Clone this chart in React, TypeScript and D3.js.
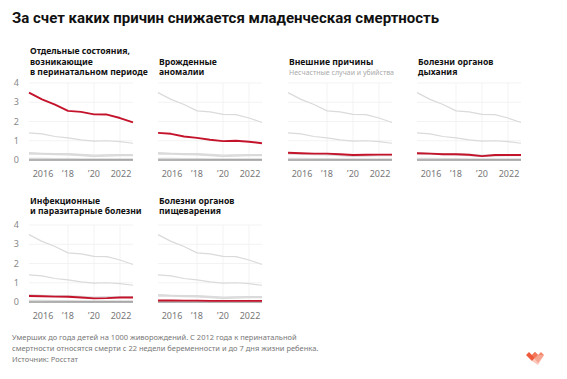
import React from "react";
import * as d3 from "d3";

const years = [2015, 2016, 2017, 2018, 2019, 2020, 2021, 2022, 2023];
const perinatal = [3.5, 3.15, 2.88, 2.55, 2.5, 2.37, 2.36, 2.18, 1.95];
const congenital = [1.41, 1.36, 1.22, 1.15, 1.05, 0.98, 1.0, 0.95, 0.87];
const external = [0.38, 0.35, 0.33, 0.33, 0.3, 0.26, 0.27, 0.28, 0.28];
const respiratory = [0.35, 0.33, 0.3, 0.3, 0.27, 0.2, 0.26, 0.26, 0.26];
const infectious = [0.31, 0.3, 0.28, 0.27, 0.23, 0.19, 0.2, 0.23, 0.23];
const digestive = [0.08, 0.08, 0.07, 0.07, 0.06, 0.06, 0.06, 0.06, 0.06];

const seriesValues = [perinatal, congenital, external, respiratory, infectious, digestive];
const panelTitles = [
  ["Отдельные состояния,", "возникающие", "в перинатальном периоде"],
  ["Врожденные", "аномалии"],
  ["Внешние причины"],
  ["Болезни органов", "дыхания"],
  ["Инфекционные", "и паразитарные болезни"],
  ["Болезни органов", "пищеварения"],
];
const panelSubtitles = ["", "", "Несчастные случаи и убийства", "", "", ""];
const xTickYears = [2016, 2018, 2020, 2022];
const xTickLabels = ["2016", "’18", "’20", "2022"];
const yTicks = [0, 1, 2, 3, 4];

const title = "За счет каких причин снижается младенческая смертность";
const note1 = "Умерших до года детей на 1000 живорождений. С 2012 года к перинатальной";
const note2 = "смертности относятся смерти с 22 недели беременности и до 7 дня жизни ребенка.";
const source = "Источник: Росстат";

const colX = [29, 158, 288, 417];
const rowZero = [160, 302];
const plotW = 104;
const plotH = 77;
const RED = "#c4142c";
const FONT = "'Noto Sans', sans-serif";

function Panel({ idx }: { idx: number }) {
  const col = idx % 4;
  const row = Math.floor(idx / 4);
  const x0 = colX[col];
  const y0 = rowZero[row];
  const x = d3.scaleLinear().domain([2015, 2023]).range([x0, x0 + plotW]);
  const y = d3.scaleLinear().domain([0, 4]).range([y0, y0 - plotH]);
  const line = d3
    .line<number>()
    .x((_, i) => x(years[i]))
    .y((d) => y(d));
  const titleLines = panelTitles[idx];
  const sub = panelSubtitles[idx];
  const lastBase = row === 0 ? 75 : 214;
  const allLines = sub ? [...titleLines, sub] : titleLines;
  const n = allLines.length;
  return (
    <g>
      {allLines.map((t, i) => {
        const isSub = sub && i === n - 1;
        return (
          <text
            key={i}
            x={x0 + 1}
            y={lastBase - (n - 1 - i) * 10.5}
            fontFamily={FONT}
            fontSize={isSub ? 7.0 : 8.6}
            fontWeight={isSub ? 400 : 700}
            fill={isSub ? "#aaa" : "#111"}
          >
            {t}
          </text>
        );
      })}
      {yTicks.slice(1).map((v) => (
        <line key={"h" + v} x1={x0} x2={x0 + plotW} y1={y(v)} y2={y(v)} stroke="#f0f0f0" strokeWidth={0.8} />
      ))}
      {[2018, 2020, 2022].map((yr) => (
        <line key={"v" + yr} x1={x(yr)} x2={x(yr)} y1={y(4)} y2={y0} stroke="#f0f0f0" strokeWidth={0.8} />
      ))}
      {seriesValues.map((s, i) =>
        i === idx ? null : (
          <path key={"g" + i} d={line(s) || ""} fill="none" stroke="#dadada" strokeWidth={1.2} />
        )
      )}
      <line x1={x0} x2={x0 + plotW} y1={y0} y2={y0} stroke="#666" strokeWidth={1} />
      <path d={line(seriesValues[idx]) || ""} fill="none" stroke={RED} strokeWidth={1.9} strokeLinejoin="round" />
      {col === 0 &&
        yTicks.map((v) => (
          <text key={"yl" + v} x={19} y={y(v) + 3.2} textAnchor="end" fontFamily={FONT} fontSize={9} fill="#888">
            {v}
          </text>
        ))}
      {xTickYears.map((yr, i) => (
        <text key={"xl" + yr} x={x(yr) + (i === 0 || i === 3 ? 1 : 0)} y={y0 + 17} textAnchor="middle" fontFamily={FONT} fontSize={9} fill="#777">
          {xTickLabels[i]}
        </text>
      ))}
    </g>
  );
}

export default function App() {
  const panels = d3.range(6);
  return (
    <svg width={567} height={379} style={{ position: "absolute", left: 0, top: 0, background: "#fff" }}>
      <rect width={567} height={379} fill="#fff" />
      <text x={12} y={23} fontFamily="Roboto, 'Noto Sans', sans-serif" fontSize={15} fontWeight={700} fill="#111">
        {title}
      </text>
      {panels.map((i) => (
        <Panel key={i} idx={i} />
      ))}
      <text x={12} y={340} fontFamily={FONT} fontSize={7.5} fill="#777">
        {note1}
      </text>
      <text x={12} y={350.5} fontFamily={FONT} fontSize={7.5} fill="#777">
        {note2}
      </text>
      <text x={12} y={362} fontFamily={FONT} fontSize={7.5} fill="#777">
        {source}
      </text>
      <g transform="translate(526,352)">
        <path d="M0,3 L3,0 L6,3 L9,0 L12,3 L6,9 Z" fill="#f05a3c" />
        <path d="M6,3 L9,0 L12,3 L15,0 L18,3 L12,11 Z" fill="#f47a5c" opacity={0.9} />
        <path d="M6,9 L12,3 L18,3 L12,13 Z" fill="#f8b0a0" opacity={0.7} />
      </g>
    </svg>
  );
}
